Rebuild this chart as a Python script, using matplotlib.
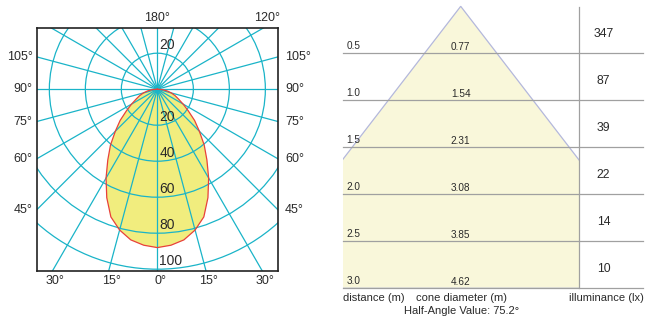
import numpy as np
import matplotlib
matplotlib.use("Agg")
import matplotlib.pyplot as plt
from matplotlib.patches import Circle, Polygon, Rectangle

plt.rcParams['font.family'] = ['Liberation Sans', 'DejaVu Sans']

# polar intensity curve (angle from nadir, relative intensity)
angles = [0, 5, 10, 15, 20, 25, 30, 35, 40, 45, 50, 55, 60, 65, 70, 75, 80, 85, 90]
intensity = [88, 87, 85, 81, 75.5, 66.5, 57, 48, 40.5, 33, 27, 21, 16.5, 13, 10.5, 8, 5.5, 3, 0]
rings = [20, 40, 60, 80, 100]
ring_labels_down = [20, 40, 60, 80, 100]
ray_angles = list(range(0, 180, 15))
side_labels = [105, 90, 75, 60, 45]
bottom_labels = [-30, -15, 0, 15, 30]

# cone table
distances = [0.5, 1.0, 1.5, 2.0, 2.5, 3.0]
diameters = [0.77, 1.54, 2.31, 3.08, 3.85, 4.62]
lux = [347, 87, 39, 22, 14, 10]
half_angle = 75.2

CYAN = '#1ab4c8'
RED = '#e8413a'
YELLOW = '#f1ed7e'
PALE = '#f9f7da'
GREY = '#a0a0a0'
TXT = '#2a2a2a'

W, H = 646, 318
fig = plt.figure(figsize=(W / 100, H / 100), dpi=100)

# ---------------- left: polar diagram ----------------
ax = fig.add_axes([36.7 / W, 1 - 271 / H, 241.3 / W, 243 / H])
xmin, xmax, ymin, ymax = -67, 67, -101, 34
ax.set_xlim(xmin, xmax)
ax.set_ylim(ymin, ymax)
ax.set_aspect('equal', adjustable='box')
ax.set_xticks([])
ax.set_yticks([])
for s in ax.spines.values():
    s.set_linewidth(1.2)
    s.set_color('#222222')

th = np.radians(np.array(angles))
I = np.array(intensity)
xs = np.concatenate([-(I * np.sin(th))[::-1], (I * np.sin(th))[1:]])
ys = np.concatenate([-(I * np.cos(th))[::-1], -(I * np.cos(th))[1:]])
ax.fill(xs, ys, color=YELLOW, zorder=1, lw=0)

for r in rings:
    ax.add_patch(Circle((0, 0), r, fill=False, ec=CYAN, lw=0.9, zorder=2))
for a in ray_angles:
    t = np.radians(a)
    ax.plot([-200 * np.sin(t), 200 * np.sin(t)], [200 * np.cos(t), -200 * np.cos(t)],
            color=CYAN, lw=0.9, zorder=2)

ax.plot(xs, ys, color=RED, lw=0.9, zorder=3)

# ring labels
ax.text(1, 20.5, '20', ha='left', va='bottom', fontsize=10, color=TXT, zorder=4)
for r in ring_labels_down:
    ax.text(1, -r + 0.5, str(r), ha='left', va='bottom', fontsize=10, color=TXT, zorder=4)

# angle labels on both sides
for a in side_labels:
    t = np.radians(a)
    y = -xmax * np.cos(t) / np.sin(t)
    ax.annotate(f'{a}°', xy=(xmin, y), xytext=(-3, 0), textcoords='offset points',
                ha='right', va='center', fontsize=9, color=TXT, annotation_clip=False)
    ax.annotate(f'{a}°', xy=(xmax, y), xytext=(5, 0), textcoords='offset points',
                ha='left', va='center', fontsize=9, color=TXT, annotation_clip=False)
for a in bottom_labels:
    x = -ymin * np.tan(np.radians(a))
    ax.annotate(f'{abs(a)}°', xy=(x, ymin), xytext=(2, -3), textcoords='offset points',
                ha='center', va='top', fontsize=9, color=TXT, annotation_clip=False)
ax.annotate('180°', xy=(0, ymax), xytext=(0, 3), textcoords='offset points',
            ha='center', va='bottom', fontsize=9, color=TXT, annotation_clip=False)
ax.annotate('120°', xy=(ymax * np.tan(np.radians(60)), ymax), xytext=(3, 3),
            textcoords='offset points', ha='center', va='bottom', fontsize=9, color=TXT,
            annotation_clip=False)

# ---------------- right: cone table ----------------
scale = 94.0  # px per metre
apex_x, apex_y = 460.7, 6.3
bx = fig.add_axes([0, 0, 1, 1])
bx.set_xlim(-apex_x / scale, (W - apex_x) / scale)
bx.set_ylim((H - apex_y) / scale, -apex_y / scale)
bx.axis('off')
bx.patch.set_alpha(0)

left_edge = (343 - apex_x) / scale
col_edge = (579.3 - apex_x) / scale
right_edge = (643 - apex_x) / scale
dmax = distances[-1]

cone = Polygon([(0, 0), (-diameters[-1] / 2, dmax), (diameters[-1] / 2, dmax)],
               closed=True, fc=PALE, ec='#b4b8dc', lw=0.9, zorder=1)
bx.add_patch(cone)
clip = Rectangle((left_edge, -0.1), col_edge - left_edge, dmax + 0.1, transform=bx.transData)
cone.set_clip_path(clip)

for d in distances:
    bx.plot([left_edge, right_edge], [d, d], color=GREY, lw=0.9, zorder=2)
bx.plot([col_edge, col_edge], [0.01, dmax], color=GREY, lw=0.9, zorder=2)

for i, d in enumerate(distances):
    bx.text(left_edge + 0.04, d - 0.08, f'{d:.1f}', ha='left', va='center',
            fontsize=7.2, color=TXT)
    bx.text(0, d - 0.07, f'{diameters[i]:.2f}', ha='center', va='center',
            fontsize=7.2, color=TXT)
    bx.text(1.52, d - 0.205, str(lux[i]), ha='center', va='center',
            fontsize=8.8, color=TXT)

bx.text(-0.92, dmax + 0.105, 'distance (m)', ha='center', va='center', fontsize=8, color=TXT)
bx.text(0.01, dmax + 0.105, 'cone diameter (m)', ha='center', va='center', fontsize=8, color=TXT)
bx.text(1.55, dmax + 0.105, 'illuminance (lx)', ha='center', va='center', fontsize=8, color=TXT)
bx.text(0.01, dmax + 0.245, f'Half-Angle Value: {half_angle}°', ha='center', va='center',
        fontsize=8, color=TXT)

fig.savefig('out.png', dpi=100)
